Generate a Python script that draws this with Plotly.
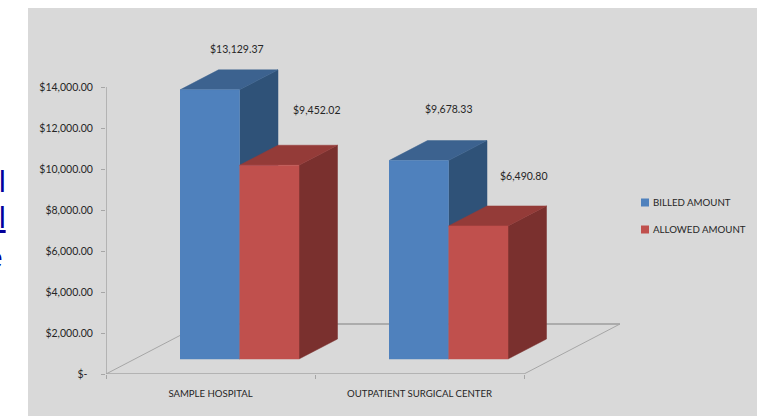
import plotly.graph_objects as go

categories = ["SAMPLE HOSPITAL", "OUTPATIENT SURGICAL CENTER"]
billed_amount = [13129.37, 9678.33]
allowed_amount = [9452.02, 6490.80]
series_names = ["BILLED AMOUNT", "ALLOWED AMOUNT"]
y_ticks = [0, 2000, 4000, 6000, 8000, 10000, 12000, 14000]
y_tick_labels = ["$-\u00a0\u00a0", "$2,000.00", "$4,000.00", "$6,000.00", "$8,000.00",
                 "$10,000.00", "$12,000.00", "$14,000.00"]

W, H = 768, 416
L, R, T, B = 106, 0, 8, 42
GREY_LEFT, GREY_RIGHT = 28, 757
PX_X = 209.0            # pixels per category
PX_Y = 287 / 14000      # pixels per currency unit
DX = 38.5 / PX_X        # depth offset, category units
DY = 20 / PX_Y          # depth offset, value units
FLOOR_DX = 96 / PX_X
FLOOR_DY = 50 / PX_Y
BASE = 15 / PX_Y
BAR_W = 59.5 / PX_X
BAR_START = 74 / PX_X

FRONT = ["#4F81BD", "#C0504D"]
TOP = ["#3C628F", "#943B38"]
SIDE = ["#2F5278", "#7A302E"]
AXIS = "#A6A6A6"
TEXT = "#262626"
FONT = "Lato"

# data label offsets in pixels: [series][category]
LABEL_XSHIFT = [[8, 11], [28.5, 26.5]]
LABEL_YSHIFT = [[21, 32], [35.5, 30]]

PW = W - L - R
PH = H - T - B

fig = go.Figure()


def poly(xs, ys, color):
    fig.add_trace(go.Scatter(x=xs, y=ys, mode="lines", fill="toself", fillcolor=color,
                             line=dict(color=color, width=0.5), hoverinfo="skip",
                             showlegend=False))


def line(xs, ys, width):
    fig.add_trace(go.Scatter(x=xs, y=ys, mode="lines", line=dict(color=AXIS, width=width),
                             hoverinfo="skip", showlegend=False))


# floor and axes
line([0, FLOOR_DX, 2 + FLOOR_DX, 2], [0, FLOOR_DY, FLOOR_DY, 0], 1)
line([FLOOR_DX, 2 + FLOOR_DX], [FLOOR_DY, FLOOR_DY], 1.5)
line([0, 0], [0, 14000], 1.5)
line([0, 2], [0, 0], 1.5)

# 3D bars
for c in range(len(categories)):
    for s, vals in enumerate([billed_amount, allowed_amount]):
        x0 = c + BAR_START + s * BAR_W
        x1 = x0 + BAR_W
        top = BASE + vals[c]
        poly([x1, x1 + DX, x1 + DX, x1], [BASE, BASE + DY, top + DY, top], SIDE[s])
        poly([x0, x0 + DX, x1 + DX, x1], [top, top + DY, top + DY, top], TOP[s])
        poly([x0, x1, x1, x0], [BASE, BASE, top, top], FRONT[s])

# data labels
for s, vals in enumerate([billed_amount, allowed_amount]):
    for c, v in enumerate(vals):
        x0 = c + BAR_START + s * BAR_W
        fig.add_annotation(x=x0 + BAR_W / 2 + DX / 2, y=BASE + v + DY,
                           xshift=LABEL_XSHIFT[s][c], yshift=LABEL_YSHIFT[s][c],
                           text=f"${v:,.2f}", showarrow=False, yanchor="middle",
                           font=dict(family=FONT, size=10.5, color=TEXT))

# legend
for s, name in enumerate(series_names):
    fig.add_trace(go.Scatter(x=[None], y=[None], mode="markers", name=name, legendgroup=name,
                             marker=dict(symbol="square", size=8, color=FRONT[s])))

# clipped fragments of surrounding page text at the left edge
for txt, y, anchor, px in [("l", 181, "left", -3), ("<u>l</u>", 217, "left", -3), ("e", 257, "right", 5)]:
    fig.add_annotation(xref="paper", yref="paper", x=(px - L) / PW,
                       y=1 - (y - T) / PH, text=txt, showarrow=False,
                       xanchor=anchor, yanchor="middle",
                       font=dict(family="Liberation Sans", size=30, color="#00009C"))

fig.update_layout(
    width=W, height=H, margin=dict(l=L, r=R, t=T, b=B),
    paper_bgcolor="white", plot_bgcolor="rgba(0,0,0,0)", showlegend=True,
    shapes=[dict(type="rect", xref="paper", yref="paper", layer="below",
                 x0=(GREY_LEFT - L) / PW, x1=(GREY_RIGHT - L) / PW, y0=-B / PH, y1=1,
                 fillcolor="#D9D9D9", line_width=0)],
    legend=dict(x=(613 - L) / PW, y=1 - (188 - T) / PH, xanchor="left", yanchor="top",
                bgcolor="rgba(0,0,0,0)", tracegroupgap=8, itemwidth=30,
                font=dict(family=FONT, size=9.7, color=TEXT)),
    xaxis=dict(range=[0, PW / PX_X], showgrid=False, zeroline=False, showline=False,
               tickmode="array", tickvals=[0.5, 1.5], ticktext=categories, ticks="", ticklen=0,
               ticklabelstandoff=12,
               tickfont=dict(family=FONT, size=9.6, color=TEXT),
               minor=dict(tickmode="array", tickvals=[0, 1, 2], ticks="outside", ticklen=4,
                          tickcolor=AXIS, tickwidth=1)),
    yaxis=dict(range=[0, PH / PX_Y], showgrid=False, zeroline=False, showline=False,
               tickmode="array", tickvals=y_ticks, ticktext=y_tick_labels, ticks="outside",
               ticklen=4, tickcolor=AXIS, tickwidth=1, ticklabelstandoff=6,
               tickfont=dict(family=FONT, size=10.5, color=TEXT)),
)

post = """
document.body.style.margin='0';
function shiftSwatches(){
  document.querySelectorAll('.legendsymbols').forEach(function(g){
    g.setAttribute('transform','translate(12,0)');
  });
}
shiftSwatches();
[0,50,200,500].forEach(function(t){setTimeout(shiftSwatches,t);});
"""
fig.write_html("out.html", config={"displayModeBar": False}, post_script=post)
